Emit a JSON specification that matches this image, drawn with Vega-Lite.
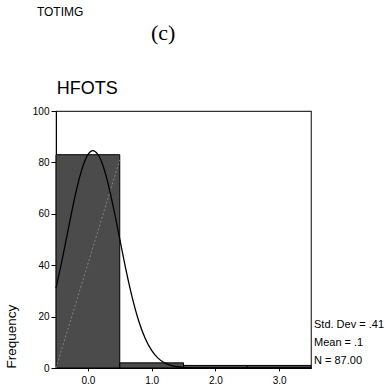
{
  "$schema": "https://vega.github.io/schema/vega-lite/v6.json",
  "autosize": {"type": "none"},
  "padding": {"left": 56, "top": 111, "right": 74, "bottom": 23},
  "width": 255,
  "height": 257,
  "background": "white",
  "config": {
    "font": "Liberation Sans",
    "view": {"stroke": "#333333", "strokeWidth": 1.2},
    "axis": {"grid": false, "domainColor": "#000000", "tickColor": "#000000", "labelColor": "#000000", "titleColor": "#000000", "labelFontSize": 10, "labelFont": "Liberation Sans", "titleFont": "Liberation Sans", "titleFontWeight": "normal"}
  },
  "data": {"values": [{"note": 1}]},
  "datasets": {
    "bins": [
      {"bin_start": -0.5, "bin_end": 0.5, "count": 83},
      {"bin_start": 0.5, "bin_end": 1.5, "count": 2},
      {"bin_start": 1.5, "bin_end": 2.5, "count": 1},
      {"bin_start": 2.5, "bin_end": 3.5, "count": 1}
    ],
    "curve": [
      {"x": -0.5, "y": 31.1}, {"x": -0.4, "y": 42.6}, {"x": -0.3, "y": 55.0}, {"x": -0.2, "y": 67.0},
      {"x": -0.1, "y": 76.8}, {"x": 0.0, "y": 83.0}, {"x": 0.08, "y": 84.6}, {"x": 0.15, "y": 83.3},
      {"x": 0.2, "y": 81.1}, {"x": 0.3, "y": 73.4}, {"x": 0.4, "y": 62.5}, {"x": 0.5, "y": 50.2},
      {"x": 0.6, "y": 37.9}, {"x": 0.7, "y": 27.0}, {"x": 0.8, "y": 18.1}, {"x": 0.9, "y": 11.5},
      {"x": 1.0, "y": 6.85}, {"x": 1.1, "y": 3.84}, {"x": 1.2, "y": 2.03}, {"x": 1.3, "y": 1.01},
      {"x": 1.4, "y": 0.48}, {"x": 1.5, "y": 0.21}, {"x": 1.6, "y": 0.09}, {"x": 1.8, "y": 0.01},
      {"x": 2.0, "y": 0.0}, {"x": 2.5, "y": 0.0}, {"x": 3.0, "y": 0.0}, {"x": 3.5, "y": 0.0}
    ],
    "diag": [
      {"x": -0.5, "y": 0},
      {"x": 0.5, "y": 81}
    ]
  },
  "layer": [
    {
      "data": {"name": "bins"},
      "mark": {"type": "rect", "fill": "#4b4b4b", "stroke": "#000000", "strokeWidth": 1},
      "encoding": {
        "x": {"field": "bin_start", "type": "quantitative", "scale": {"domain": [-0.5, 3.5], "nice": false, "zero": false},
          "axis": {"values": [0, 1, 2, 3], "format": ".1f", "title": null, "tickSize": 3, "labelPadding": 4}},
        "x2": {"field": "bin_end"},
        "y": {"field": "count", "type": "quantitative", "scale": {"domain": [0, 100], "nice": false},
          "axis": {"values": [0, 20, 40, 60, 80, 100], "title": "Frequency", "titleFontSize": 13.5, "titleAnchor": "start", "titlePadding": 14, "tickSize": 5, "labelPadding": 2}},
        "y2": {"datum": 0}
      }
    },
    {
      "data": {"name": "diag"},
      "mark": {"type": "line", "stroke": "#9a9a9a", "strokeWidth": 0.7, "strokeDash": [2, 2]},
      "encoding": {
        "x": {"field": "x", "type": "quantitative"},
        "y": {"field": "y", "type": "quantitative"}
      }
    },
    {
      "data": {"name": "curve"},
      "mark": {"type": "line", "stroke": "#000000", "strokeWidth": 1.3, "interpolate": "monotone"},
      "encoding": {
        "x": {"field": "x", "type": "quantitative"},
        "y": {"field": "y", "type": "quantitative"}
      }
    },
    {
      "mark": {"type": "text", "text": "HFOTS", "fontSize": 18, "align": "left", "baseline": "alphabetic", "color": "#000000"},
      "encoding": {"x": {"datum": -0.49, "type": "quantitative"}, "y": {"datum": 106.8, "type": "quantitative"}}
    },
    {
      "mark": {"type": "text", "text": "TOTIMG", "fontSize": 12, "align": "left", "baseline": "alphabetic", "color": "#000000"},
      "encoding": {"x": {"datum": -0.8, "type": "quantitative"}, "y": {"datum": 137, "type": "quantitative"}}
    },
    {
      "mark": {"type": "text", "text": "(c)", "font": "Liberation Serif", "fontSize": 22, "align": "center", "baseline": "alphabetic", "color": "#000000"},
      "encoding": {"x": {"datum": 1.18, "type": "quantitative"}, "y": {"datum": 127.5, "type": "quantitative"}}
    },
    {
      "mark": {"type": "text", "text": ["Std. Dev = .41", "Mean = .1", "N = 87.00"], "fontSize": 11, "lineHeight": 18, "align": "left", "baseline": "middle", "dx": 3, "color": "#000000"},
      "encoding": {"x": {"datum": 3.5, "type": "quantitative"}, "y": {"datum": 16.8, "type": "quantitative"}}
    }
  ]
}
